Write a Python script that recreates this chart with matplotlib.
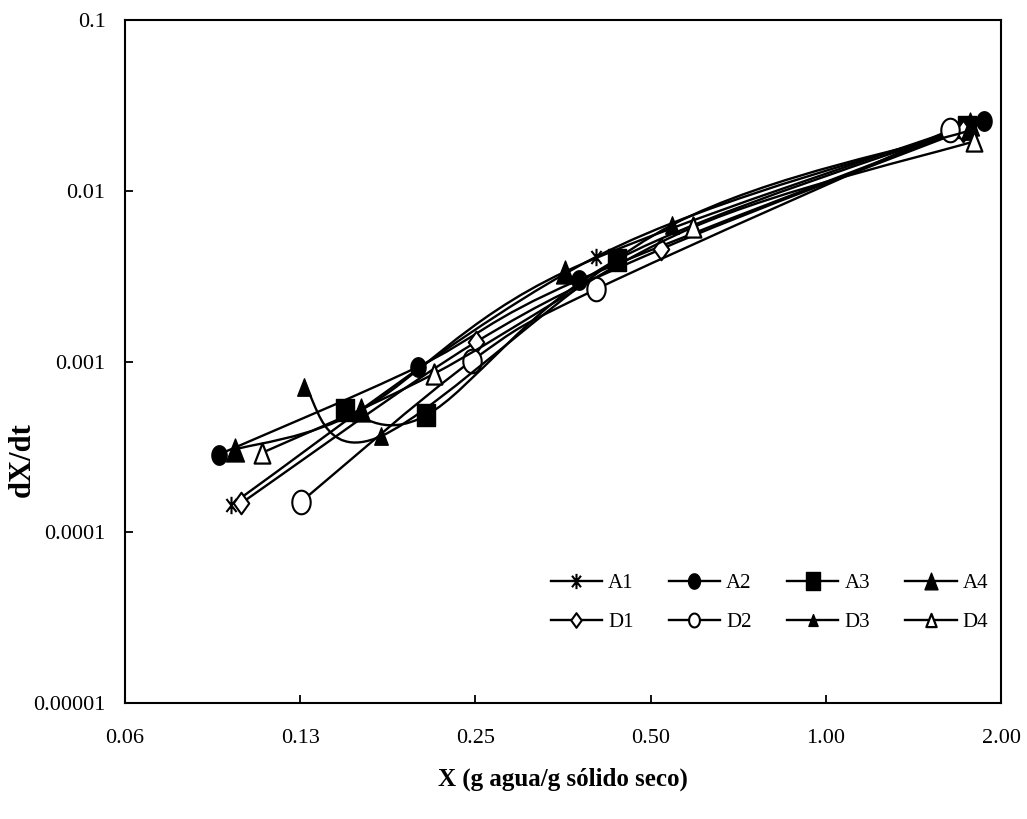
import numpy as np
import matplotlib
matplotlib.use("Agg")
import matplotlib.pyplot as plt
from matplotlib.path import Path
from matplotlib.patches import PathPatch
from matplotlib.lines import Line2D
from matplotlib.ticker import FixedLocator, FixedFormatter, NullLocator

# Drying-rate data: moisture content X and rate dX/dt per run
labels = ["A1", "A2", "A3", "A4", "D1", "D2", "D3", "D4"]
x_A1 = [0.095, 0.403, 1.78]
y_A1 = [1.45e-4, 4.1e-3, 0.0235]
x_A2 = [0.0905, 0.199, 0.376, 1.87]
y_A2 = [2.85e-4, 9.3e-4, 3.0e-3, 0.0256]
x_A3 = [0.149, 0.206, 0.438, 1.75]
y_A3 = [5.2e-4, 4.85e-4, 3.95e-3, 0.0236]
x_A4 = [0.0965, 0.159, 0.356, 1.77]
y_A4 = [3.05e-4, 5.2e-4, 3.35e-3, 0.0245]
x_D1 = [0.099, 0.2505, 0.521, 1.72]
y_D1 = [1.48e-4, 1.3e-3, 4.55e-3, 0.0224]
x_D2 = [0.1255, 0.2465, 0.403, 1.635]
y_D2 = [1.51e-4, 1.01e-3, 2.65e-3, 0.0227]
x_D3 = [0.127, 0.172, 0.544, 1.756]
y_D3 = [7.1e-4, 3.65e-4, 6.3e-3, 0.0224]
x_D4 = [0.1075, 0.2125, 0.5906, 1.80]
y_D4 = [2.92e-4, 8.5e-4, 6.1e-3, 0.0195]

xticks = [0.0625, 0.125, 0.25, 0.5, 1.0, 2.0]
xtick_labels = ["0.06", "0.13", "0.25", "0.50", "1.00", "2.00"]
yticks = [1e-5, 1e-4, 1e-3, 1e-2, 1e-1]
ytick_labels = ["0.00001", "0.0001", "0.001", "0.01", "0.1"]

series_x = [x_A1, x_A2, x_A3, x_A4, x_D1, x_D2, x_D3, x_D4]
series_y = [y_A1, y_A2, y_A3, y_A4, y_D1, y_D2, y_D3, y_D4]

plt.rcParams["font.family"] = ["Liberation Serif", "DejaVu Serif"]

# Marker shapes (slightly narrow, as in the original spreadsheet export)
SQ = 0.78
t = np.linspace(0, 2 * np.pi, 41)
ellipse = Path(np.column_stack([SQ * np.cos(t), np.sin(t)]), closed=True)
rect = Path([(-SQ, -1), (SQ, -1), (SQ, 1), (-SQ, 1), (-SQ, -1)], closed=True)
tri = Path([(0, 1), (-SQ, -1), (SQ, -1), (0, 1)], closed=True)
diam = Path([(0, 1), (0.72, 0), (0, -1), (-0.72, 0), (0, 1)], closed=True)
d = 0.75 * SQ
star = Path([(0, -1), (0, 1), (-d, -0.75), (d, 0.75), (-d, 0.75), (d, -0.75)],
            [Path.MOVETO, Path.LINETO, Path.MOVETO, Path.LINETO, Path.MOVETO, Path.LINETO])

# marker, size on the plot, size in the legend, face colour, edge width
styles = [
    dict(marker=star, ms=12.5, lms=11.0, mfc="none", mew=1.5),
    dict(marker=ellipse, ms=14.0, lms=11.0, mfc="black", mew=1.0),
    dict(marker=rect, ms=16.5, lms=13.0, mfc="black", mew=1.0),
    dict(marker=tri, ms=16.5, lms=12.0, mfc="black", mew=1.0),
    dict(marker=diam, ms=15.5, lms=10.5, mfc="white", mew=1.5),
    dict(marker=ellipse, ms=17.0, lms=10.0, mfc="white", mew=1.5),
    dict(marker=tri, ms=12.5, lms=8.5, mfc="black", mew=1.0),
    dict(marker=tri, ms=14.5, lms=9.5, mfc="white", mew=1.6),
]

LW = 1.7

fig = plt.figure(figsize=(10.27, 8.19), dpi=100)
ax = fig.add_axes([0.1217, 0.1416, 0.8530, 0.8340])
ax.set_xscale("log", base=2)
ax.set_yscale("log")
ax.set_xlim(0.0625, 2.0)
ax.set_ylim(1e-5, 0.1)


def smooth_path(xs, ys):
    """Cubic Bezier through the points; control points built in log space
    so the curve is smooth on the log-log axes."""
    lx, ly = np.log(xs), np.log(ys)
    n = len(xs)
    verts = [(xs[0], ys[0])]
    codes = [Path.MOVETO]
    for i in range(n - 1):
        p0 = max(i - 1, 0)
        p3 = min(i + 2, n - 1)
        c1x = lx[i] + (lx[i + 1] - lx[p0]) / 6.0
        c1y = ly[i] + (ly[i + 1] - ly[p0]) / 6.0
        c2x = lx[i + 1] - (lx[p3] - lx[i]) / 6.0
        c2y = ly[i + 1] - (ly[p3] - ly[i]) / 6.0
        verts += [(np.exp(c1x), np.exp(c1y)), (np.exp(c2x), np.exp(c2y)),
                  (xs[i + 1], ys[i + 1])]
        codes += [Path.CURVE4] * 3
    return Path(verts, codes)


handles = []
for k, (xs, ys, st, lab) in enumerate(zip(series_x, series_y, styles, labels)):
    patch = PathPatch(smooth_path(np.array(xs), np.array(ys)), facecolor="none",
                      edgecolor="black", lw=LW, zorder=2 + 2 * k)
    ax.add_patch(patch)
    ax.plot(xs, ys, linestyle="none", marker=st["marker"], ms=st["ms"],
            mfc=st["mfc"], mec="black", mew=st["mew"], zorder=3 + 2 * k)
    handles.append(Line2D([], [], color="black", lw=LW, marker=st["marker"],
                          ms=st["lms"], mfc=st["mfc"], mec="black",
                          mew=st["mew"], label=lab))

ax.xaxis.set_major_locator(FixedLocator(xticks))
ax.xaxis.set_major_formatter(FixedFormatter(xtick_labels))
ax.xaxis.set_minor_locator(NullLocator())
ax.yaxis.set_major_locator(FixedLocator(yticks))
ax.yaxis.set_major_formatter(FixedFormatter(ytick_labels))
ax.yaxis.set_minor_locator(NullLocator())

ax.tick_params(axis="both", which="major", direction="in", length=6, width=1.3,
               labelsize=16, colors="black")
ax.tick_params(axis="x", pad=19)
ax.tick_params(axis="y", pad=14)
for sp in ax.spines.values():
    sp.set_linewidth(1.5)
    sp.set_color("black")

ax.set_xlabel("X (g agua/g sólido seco)", fontsize=18, fontweight="bold", labelpad=14)
ax.set_ylabel("dX/dt", fontsize=22, fontweight="bold", va="center")
ax.yaxis.set_label_coords(-0.1176, 0.356)

# legend laid out row by row: A1..A4 on top, D1..D4 below
order = [0, 4, 1, 5, 2, 6, 3, 7]
leg = ax.legend(handles=[handles[i] for i in order], ncol=4, loc="upper left",
                bbox_to_anchor=(0.486, 0.190), frameon=False, fontsize=15,
                handlelength=2.45, handletextpad=0.3, columnspacing=1.7,
                labelspacing=0.93, borderpad=0, borderaxespad=0)

fig.savefig("out.png", dpi=100, facecolor="white")
